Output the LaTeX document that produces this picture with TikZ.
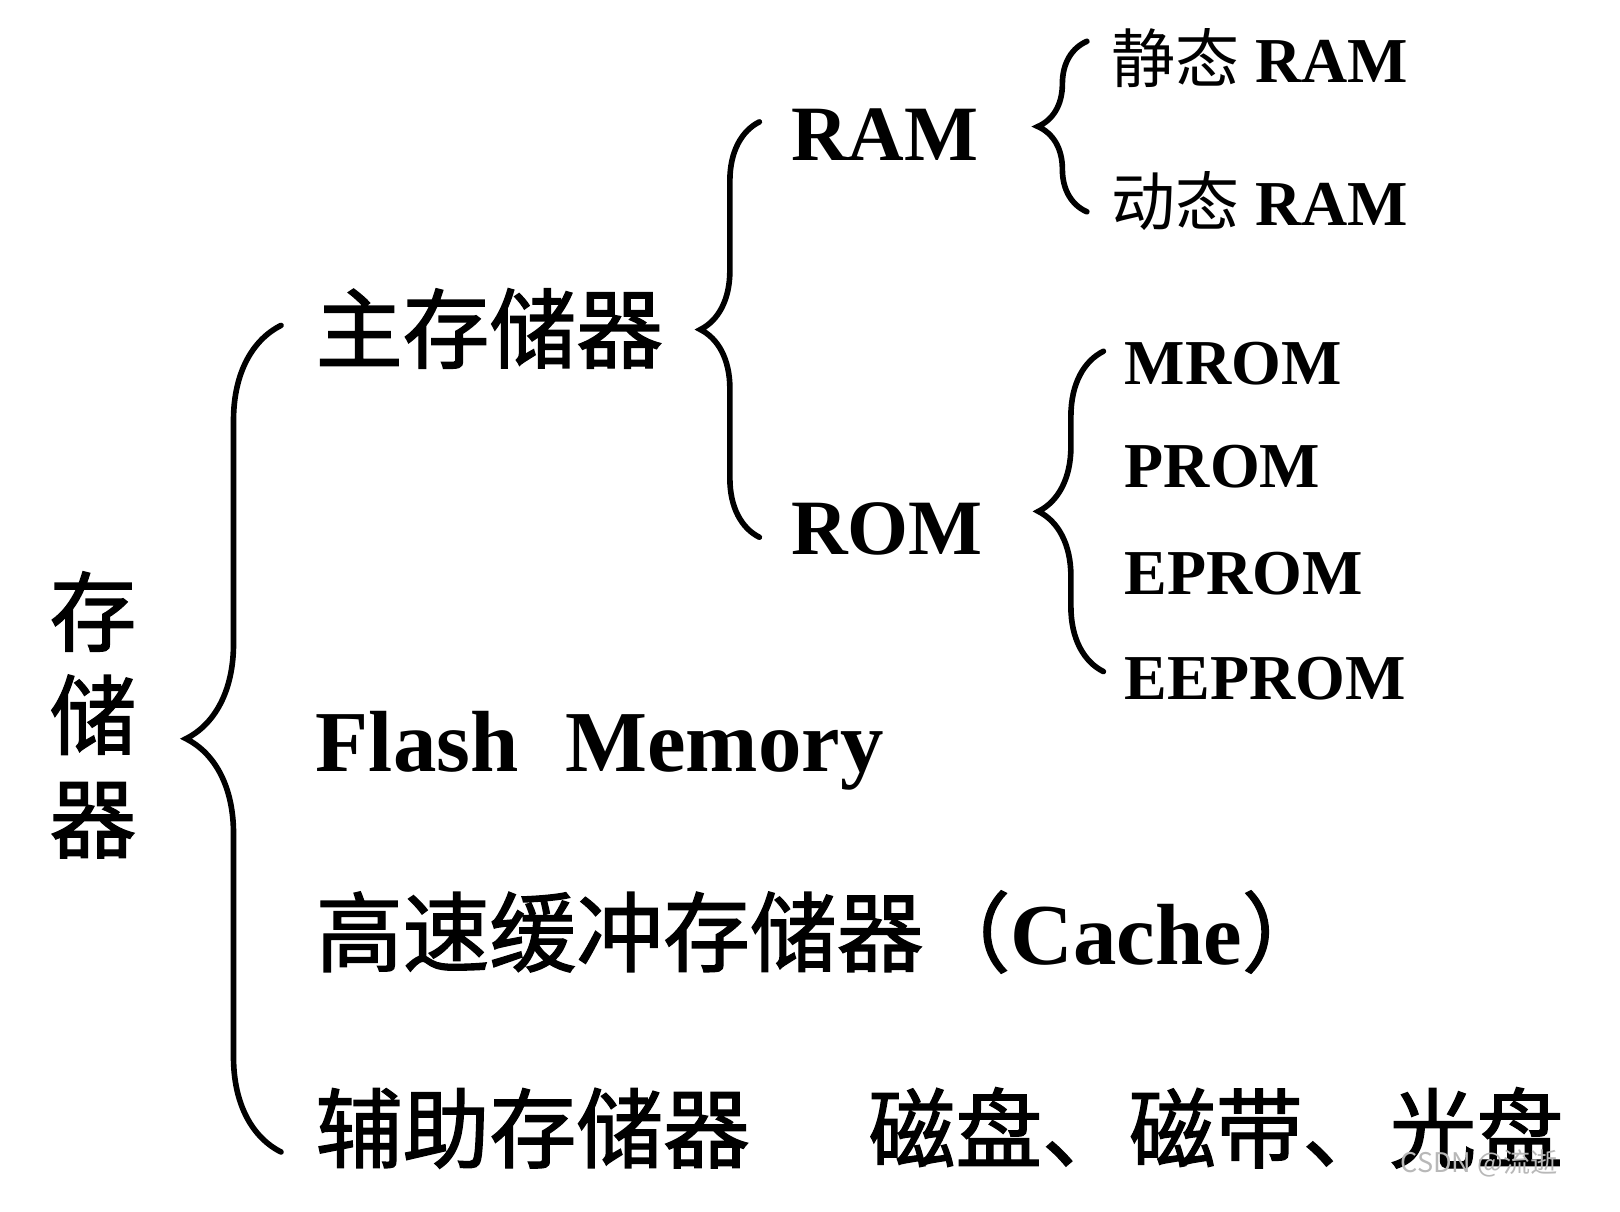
\documentclass[tikz,border=0pt]{standalone}
\usepackage{fontspec}
\setmainfont{Liberation Serif}
\newfontfamily\cjk{Noto Sans CJK SC}
\newfontfamily\cjkb{Noto Sans CJK SC}[FakeBold=1.6]
\usetikzlibrary{positioning,calc,decorations.pathreplacing}
\definecolor{mark}{HTML}{B8B8B8}
\tikzset{
  big/.style={anchor=base west, inner sep=0pt, font=\fontsize{24.7}{30}\selectfont\bfseries},
  mid/.style={anchor=base west, inner sep=0pt, font=\fontsize{22.3}{27}\selectfont\bfseries},
  small/.style={anchor=base west, inner sep=0pt, font=\fontsize{18.2}{22}\selectfont\bfseries},
  brc/.style={decorate, line width=1.6pt, line cap=round,
              decoration={brace, amplitude=#1}},
}

\begin{document}
\begin{tikzpicture}[x=0.010332cm, y=-0.010332cm]
\useasboundingbox (0,0) rectangle (1568,1173);

% ---- root, written top to bottom ------------------------------------------
\node[inner sep=0pt, align=center, font=\cjkb\fontsize{24.7}{29.4}\selectfont]
  (root) at (90,692) {存\\储\\器};

% ---- first level ------------------------------------------------------------
\node[big] (main) at (305,350) {\cjkb\mdseries 主存储器};
\node[big] (flash) at (305,747) {Flash\hspace{0.47cm}Memory};
\node[big] (cache) at (305,934) {{\cjkb\mdseries 高速缓冲存储器（}Cache{\cjkb\mdseries ）}};
\node[big] (aux) at (305,1124) {\cjkb\mdseries 辅助存储器};
\node[big] (media) at (840,1124) {\cjkb\mdseries 磁盘、磁带、光盘};

% ---- main memory ------------------------------------------------------------
\node[mid] (ram) at (765,155) {RAM};
\node[mid] (rom) at (765,537) {ROM};

% ---- kinds of RAM and ROM -------------------------------------------------
\node[small] (sram) at (1075,80) {{\cjk\mdseries 静态} RAM};
\node[small] (dram) at (1075,218) {{\cjk\mdseries 动态} RAM};
\node[small] (mrom) at (1088,372) {MROM};
\node[small] (prom) at (1088,472) {PROM};
\node[small] (eprom) at (1088,575) {EPROM};
\node[small] (eeprom) at (1088,677) {EEPROM};

% ---- braces -------------------------------------------------------------------
\coordinate (b1t) at (272,315);
\coordinate (b1b) at (272,1115);
\coordinate (b2t) at (735,118);
\coordinate (b2b) at (735,520);
\coordinate (b3t) at (1052,40);
\coordinate (b3b) at (1052,205);
\coordinate (b4t) at (1068,340);
\coordinate (b4b) at (1068,650);
\draw[brc=0.95cm] (b1b) -- (b1t);
\draw[brc=0.59cm] (b2b) -- (b2t);
\draw[brc=0.49cm] (b3b) -- (b3t);
\draw[brc=0.65cm] (b4b) -- (b4t);

% watermark
\node[anchor=base west, inner sep=0pt, text=mark, font=\cjk\fontsize{7.7}{9}\selectfont]
  (wm) at (1355,1135) {CSDN @流逝};
\end{tikzpicture}
\end{document}
